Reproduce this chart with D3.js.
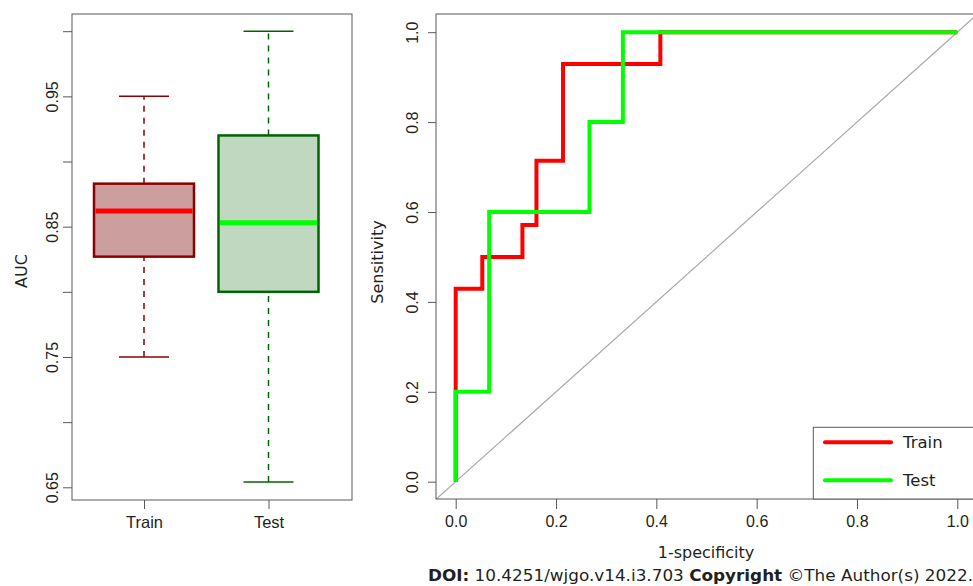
<!DOCTYPE html>
<html>
<head>
<meta charset="utf-8">
<script src="https://cdn.jsdelivr.net/npm/d3@7.9.0/dist/d3.min.js"></script>
<style>
  body { margin: 0; background: #fff; }
  svg { display: block; font-family: "DejaVu Sans", sans-serif; }
  text { fill: #231f20; }
</style>
</head>
<body>
<svg width="973" height="586"></svg>
<script>
// box plot summary (AUC)
const groups = ["Train", "Test"];
const whiskLo = [0.75, 0.654];
const q1 = [0.827, 0.80];
const med = [0.862, 0.853];
const q3 = [0.883, 0.920];
const whiskHi = [0.95, 1.0];
const aucTicks = [0.65, 0.70, 0.75, 0.80, 0.85, 0.90, 0.95, 1.00];
const aucLabels = [0.65, 0.75, 0.85, 0.95];

// ROC curves, corner points (1-specificity, sensitivity)
const trainFpr = [0, 0, 0.053, 0.053, 0.133, 0.133, 0.161, 0.161, 0.214, 0.214, 0.408, 0.408, 1.0];
const trainTpr = [0, 0.429, 0.429, 0.5, 0.5, 0.571, 0.571, 0.714, 0.714, 0.929, 0.929, 1.0, 1.0];
const testFpr = [0, 0, 0.0667, 0.0667, 0.2667, 0.2667, 0.3333, 0.3333, 1.0];
const testTpr = [0, 0.2, 0.2, 0.6, 0.6, 0.8, 0.8, 1.0, 1.0];
const rocTicks = [0, 0.2, 0.4, 0.6, 0.8, 1.0];

const boxFill = ["#cc9e9e", "#c0d8c0"];
const boxLine = ["#8b0000", "#006400"];
const medCol = ["#ff0000", "#00ff00"];

const svg = d3.select("svg");
const frameCol = "#595959";

// ---------- left panel: boxplot ----------
const L = {x0: 72, x1: 352, y0: 14, y1: 500};
const xL = d3.scalePoint().domain(groups).range([144, 268.5]);
const yL = d3.scaleLinear().domain([0.65, 1.0]).range([487.3, 31.2]);
const bw = 100;

const gBox = svg.append("g");
groups.forEach((g, i) => {
    const cx = xL(g);
    // whiskers
    [[whiskLo[i], q1[i]], [q3[i], whiskHi[i]]].forEach(([a, b]) => {
        gBox.append("line")
            .attr("x1", cx).attr("x2", cx)
            .attr("y1", yL(a)).attr("y2", yL(b))
            .attr("stroke", boxLine[i]).attr("stroke-width", 1.5)
            .attr("stroke-dasharray", "6,6");
    });
    [whiskLo[i], whiskHi[i]].forEach(v => {
        gBox.append("line")
            .attr("x1", cx - bw / 4).attr("x2", cx + bw / 4)
            .attr("y1", yL(v)).attr("y2", yL(v))
            .attr("stroke", boxLine[i]).attr("stroke-width", 1.5);
    });
    gBox.append("rect")
        .attr("x", cx - bw / 2).attr("width", bw)
        .attr("y", yL(q3[i])).attr("height", yL(q1[i]) - yL(q3[i]))
        .attr("fill", boxFill[i])
        .attr("stroke", boxLine[i]).attr("stroke-width", 2.5);
    gBox.append("line")
        .attr("x1", cx - bw / 2 + 1.5).attr("x2", cx + bw / 2 - 1.5)
        .attr("y1", yL(med[i])).attr("y2", yL(med[i]))
        .attr("stroke", medCol[i]).attr("stroke-width", 5);
});

svg.append("rect")
    .attr("x", L.x0).attr("y", L.y0)
    .attr("width", L.x1 - L.x0).attr("height", L.y1 - L.y0)
    .attr("fill", "none").attr("stroke", frameCol);

const axL = svg.append("g")
    .attr("transform", `translate(${L.x0},0)`)
    .call(d3.axisLeft(yL).tickValues(aucTicks).tickSize(9)
        .tickFormat(d => aucLabels.some(v => Math.abs(v - d) < 1e-9) ? d3.format(".2f")(d) : ""));
axL.select(".domain").remove();
axL.selectAll("line").attr("stroke", frameCol);
axL.selectAll("text")
    .attr("transform", "rotate(-90)")
    .attr("x", 0).attr("y", -14).attr("dy", null)
    .attr("text-anchor", "middle")
    .style("font-size", "16px").attr("fill", "#231f20");

const axLB = svg.append("g")
    .attr("transform", `translate(0,${L.y1})`)
    .call(d3.axisBottom(xL).tickSize(9).tickPadding(7));
axLB.select(".domain").remove();
axLB.selectAll("line").attr("stroke", frameCol);
axLB.selectAll("text").style("font-size", "16.5px").attr("fill", "#231f20");

svg.append("text")
    .attr("transform", "translate(27,271) rotate(-90)")
    .attr("text-anchor", "middle")
    .style("font-size", "16px")
    .text("AUC");

// ---------- right panel: ROC ----------
const R = {x0: 436, x1: 977.4, y0: 14, y1: 499};
const xR = d3.scaleLinear().domain([0, 1]).range([455.7, 957.3]);
const yR = d3.scaleLinear().domain([0, 1]).range([481.7, 32.2]);

svg.append("clipPath").attr("id", "clipR")
    .append("rect")
    .attr("x", R.x0).attr("y", R.y0)
    .attr("width", R.x1 - R.x0).attr("height", R.y1 - R.y0);

const plotR = svg.append("g").attr("clip-path", "url(#clipR)");

plotR.append("line")
    .attr("x1", xR(-0.2)).attr("y1", yR(-0.2))
    .attr("x2", xR(1.2)).attr("y2", yR(1.2))
    .attr("stroke", "#aaaaaa").attr("stroke-width", 1.2);

const line = d3.line().x(d => xR(d[0])).y(d => yR(d[1]));
const trainPts = trainFpr.map((f, i) => [f, trainTpr[i]]);
const testPts = testFpr.map((f, i) => [f, testTpr[i]]);

plotR.append("path").datum(trainPts)
    .attr("d", line).attr("fill", "none")
    .attr("stroke", "#ff0000").attr("stroke-width", 4);
plotR.append("path").datum(testPts)
    .attr("d", line).attr("fill", "none")
    .attr("stroke", "#00ff00").attr("stroke-width", 4);

svg.append("rect")
    .attr("x", R.x0).attr("y", R.y0)
    .attr("width", R.x1 - R.x0).attr("height", R.y1 - R.y0)
    .attr("fill", "none").attr("stroke", frameCol);

const axR = svg.append("g")
    .attr("transform", `translate(${R.x0},0)`)
    .call(d3.axisLeft(yR).tickValues(rocTicks).tickSize(8).tickFormat(d3.format(".1f")));
axR.select(".domain").remove();
axR.selectAll("line").attr("stroke", frameCol);
axR.selectAll("text")
    .attr("transform", "rotate(-90)")
    .attr("x", 0).attr("y", -18).attr("dy", null)
    .attr("text-anchor", "middle")
    .style("font-size", "16px").attr("fill", "#231f20");

const axRB = svg.append("g")
    .attr("transform", `translate(0,${R.y1})`)
    .call(d3.axisBottom(xR).tickValues(rocTicks).tickSize(10).tickPadding(7).tickFormat(d3.format(".1f")));
axRB.select(".domain").remove();
axRB.selectAll("line").attr("stroke", frameCol);
axRB.selectAll("text").style("font-size", "16px").attr("fill", "#231f20");

svg.append("text")
    .attr("x", 706).attr("y", 558)
    .attr("text-anchor", "middle")
    .style("font-size", "16px")
    .text("1-specificity");

svg.append("text")
    .attr("transform", "translate(383,262) rotate(-90)")
    .attr("text-anchor", "middle")
    .style("font-size", "16px")
    .text("Sensitivity");

// legend
const legend = svg.append("g");
legend.append("rect")
    .attr("x", 813.3).attr("y", 427.3)
    .attr("width", 180).attr("height", R.y1 - 427.3)
    .attr("fill", "#fff").attr("stroke", frameCol);
[["Train", "#ff0000", 442.3], ["Test", "#00ff00", 480.3]].forEach(([name, col, y]) => {
    legend.append("line")
        .attr("x1", 825).attr("x2", 891)
        .attr("y1", y).attr("y2", y)
        .attr("stroke", col).attr("stroke-width", 4)
        .attr("stroke-linecap", "round");
    legend.append("text")
        .attr("x", 903).attr("y", y + 6)
        .style("font-size", "16.5px")
        .text(name);
});

// footer
const foot = svg.append("text")
    .attr("x", 428).attr("y", 581)
    .attr("textLength", 545).attr("lengthAdjust", "spacingAndGlyphs")
    .style("font-size", "16px");
foot.append("tspan").attr("font-weight", "bold").text("DOI:");
foot.append("tspan").text(" 10.4251/wjgo.v14.i3.703  ");
foot.append("tspan").attr("font-weight", "bold").text("Copyright");
foot.append("tspan").text(" \u00A9The Author(s) 2022.");
</script>
</body>
</html>
